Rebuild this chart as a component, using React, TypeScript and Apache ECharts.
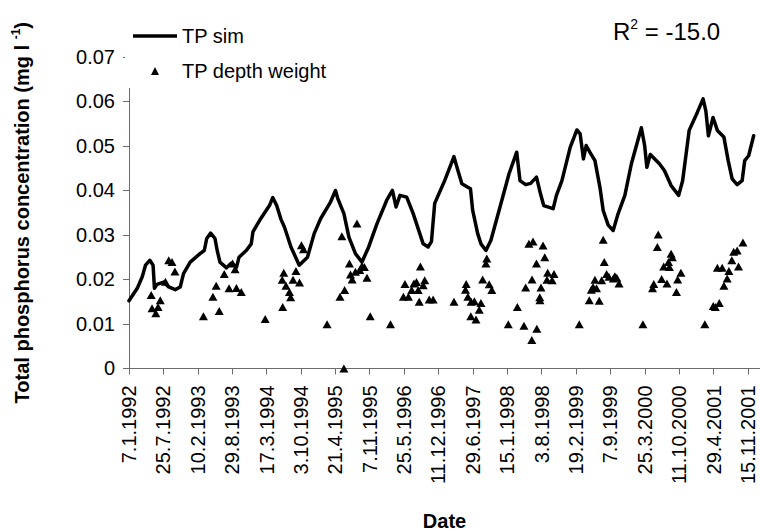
import React, { useEffect, useRef } from 'react';
import * as echarts from 'echarts';

const FONT = '"Liberation Sans", Arial, Helvetica, sans-serif';

// Day 0 of the x axis = 7.1.1992; tick labels every 200 days
const START_DATE_UTC = Date.UTC(1992, 0, 7);
const X_TICK_STEP_DAYS = 200;
const X_MAX_DAYS = 3670;

const Y_MIN = 0;
const Y_MAX = 0.07;
const Y_STEP = 0.01;

// TP sim (simulated) — days since 7.1.1992, concentration mg/l
const simDays = [
  0, 48, 77, 96, 121, 140, 148, 163, 202, 231, 269, 298, 317, 356, 413, 438, 452, 475, 500, 513,
  529, 567, 596, 625, 640, 682, 711, 721, 760, 817, 836, 859, 884, 904, 942, 990, 1038, 1077, 1115, 1172,
  1201, 1215, 1250, 1279, 1317, 1355, 1394, 1442, 1499, 1532, 1553, 1576, 1615, 1653, 1711, 1740, 1759, 1778, 1836, 1890,
  1913, 1936, 1986, 1999, 2028, 2047, 2076, 2105, 2163, 2210, 2255, 2274, 2307, 2336, 2370, 2393, 2412, 2467, 2486, 2518,
  2566, 2605, 2624, 2643, 2659, 2682, 2710, 2739, 2758, 2787, 2816, 2845, 2884, 2922, 2980, 2999, 3012, 3032, 3085, 3114,
  3153, 3197, 3220, 3258, 3306, 3339, 3355, 3370, 3397, 3422, 3460, 3485, 3508, 3537, 3566, 3581, 3604, 3633,
];
const simValues = [
  0.0152, 0.018, 0.0206, 0.0232, 0.0243, 0.0232, 0.018, 0.0189, 0.0194, 0.0183, 0.0177, 0.0183, 0.0213, 0.0239, 0.0258, 0.0265, 0.0292, 0.0304, 0.0292, 0.0265,
  0.0239, 0.0226, 0.0237, 0.0227, 0.025, 0.0265, 0.028, 0.0307, 0.0333, 0.0366, 0.0384, 0.0366, 0.0335, 0.0318, 0.0273, 0.0232, 0.025, 0.0303, 0.0337, 0.0374,
  0.04, 0.0381, 0.0348, 0.0295, 0.0258, 0.0239, 0.0273, 0.0325, 0.0378, 0.04, 0.0363, 0.0389, 0.0385, 0.0348, 0.028, 0.0273, 0.0285, 0.0371, 0.0422, 0.0476,
  0.0445, 0.0415, 0.0404, 0.0355, 0.0303, 0.028, 0.0265, 0.0288, 0.037, 0.0437, 0.0486, 0.0422, 0.0413, 0.0416, 0.043, 0.0393, 0.0366, 0.0359, 0.0389, 0.0422,
  0.0497, 0.0536, 0.0527, 0.0471, 0.0501, 0.0485, 0.0467, 0.0407, 0.0355, 0.0322, 0.031, 0.0348, 0.0389, 0.046, 0.0541, 0.0501, 0.0452, 0.0481, 0.046, 0.0445,
  0.0411, 0.0389, 0.0422, 0.0535, 0.0576, 0.0606, 0.0579, 0.0523, 0.0564, 0.0535, 0.052, 0.0467, 0.0426, 0.0413, 0.0422, 0.0467, 0.0478, 0.0523,
];

// TP depth weight (observed) — days since 7.1.1992, concentration mg/l
const obsDays = [
  129, 134, 156, 169, 182, 212, 231, 250, 267, 433,
  488, 507, 525, 554, 582, 603, 617, 625, 653, 792,
  894, 900, 891, 913, 933, 940, 954, 971, 992, 1003,
  1015, 1152, 1227, 1254, 1238, 1282, 1288, 1298, 1326, 1317,
  1342, 1355, 1369, 1384, 1250, 1403, 1521, 1596, 1605, 1625,
  1644, 1657, 1672, 1682, 1695, 1688, 1720, 1711, 1746, 1769,
  1890, 1961, 1957, 1971, 1990, 2009, 2047, 2037, 1988, 2018,
  2057, 2081, 2076, 2095, 2110, 2206, 2259, 2297, 2307, 2326,
  2350, 2344, 2370, 2372, 2343, 2396, 2389, 2390, 2408, 2418,
  2435, 2431, 2461, 2472, 2619, 2677, 2689, 2699, 2710, 2719,
  2735, 2758, 2764, 2749, 2778, 2791, 2817, 2826, 2837, 2850,
  2989, 3045, 3052, 3073, 3078, 3098, 3110, 3129, 3138, 3153,
  3160, 3143, 3184, 3191, 3210, 3349, 3398, 3410, 3433, 3422,
  3450, 3460, 3479, 3489, 3506, 3517, 3537, 3545, 3571,
];
const obsValues = [
  0.0165, 0.0135, 0.0124, 0.0138, 0.0153, 0.0195, 0.0243, 0.0239, 0.0218, 0.0117,
  0.0161, 0.0186, 0.0129, 0.0212, 0.018, 0.0236, 0.0223, 0.0181, 0.0172, 0.0111,
  0.0138, 0.0215, 0.0199, 0.0186, 0.0172, 0.016, 0.0199, 0.0219, 0.0193, 0.0277,
  0.0268, 0.0099, 0.0161, 0.0176, 0.0297, 0.0236, 0.0211, 0.02, 0.0326, 0.0217,
  0.0221, 0.023, 0.0228, 0.0204, 0, 0.0117, 0.0099, 0.0161, 0.019, 0.0161,
  0.0176, 0.0191, 0.0194, 0.0176, 0.0229, 0.015, 0.0198, 0.0187, 0.0155, 0.0155,
  0.015, 0.019, 0.0177, 0.0161, 0.015, 0.0151, 0.0147, 0.0132, 0.0117, 0.011,
  0.02, 0.0247, 0.0236, 0.0189, 0.0176, 0.0099, 0.0138, 0.0096, 0.0182, 0.028,
  0.0285, 0.02, 0.0236, 0.0089, 0.0064, 0.0182, 0.016, 0.0153, 0.0276, 0.025,
  0.0215, 0.0199, 0.0198, 0.0212, 0.0099, 0.0153, 0.0177, 0.0183, 0.0199, 0.018,
  0.0152, 0.0289, 0.0239, 0.0198, 0.0212, 0.0206, 0.0202, 0.0207, 0.0204, 0.0191,
  0.0099, 0.018, 0.019, 0.0273, 0.0301, 0.0201, 0.0229, 0.0191, 0.0239, 0.0258,
  0.025, 0.0228, 0.0172, 0.02, 0.0215, 0.0099, 0.014, 0.0138, 0.0147, 0.0226,
  0.0226, 0.0186, 0.0202, 0.0219, 0.0243, 0.0262, 0.0265, 0.0229, 0.0283,
];

const SERIES_SIM = 'TP sim';
const SERIES_OBS = 'TP depth weight';
const R2_TEXT = '-15.0';

function dayToLabel(day: number): string {
  const d = new Date(START_DATE_UTC + Math.round(day) * 86400000);
  return `${d.getUTCDate()}.${d.getUTCMonth() + 1}.${d.getUTCFullYear()}`;
}

export default function App() {
  const ref = useRef<HTMLDivElement>(null);

  useEffect(() => {
    if (!ref.current) return;
    const chart = echarts.init(ref.current, null, { renderer: 'svg' });
    const axisColor = '#6b6b6b';
    chart.setOption({
      animation: false,
      backgroundColor: '#ffffff',
      textStyle: { fontFamily: FONT },
      grid: {
        left: 129,
        top: 57,
        width: 631,
        height: 311.4,
        containLabel: false,
        outerBoundsMode: 'none',
      },
      xAxis: {
        type: 'value',
        min: 0,
        max: X_MAX_DAYS,
        interval: X_TICK_STEP_DAYS,
        axisLine: { show: true, lineStyle: { color: axisColor, width: 1 } },
        axisTick: { show: true, length: 6, lineStyle: { color: axisColor, width: 1 } },
        splitLine: { show: false },
        axisLabel: {
          rotate: 90,
          margin: 17,
          fontSize: 20,
          lineHeight: 14,
          color: '#000',
          fontFamily: FONT,
          showMaxLabel: false,
          formatter: (v: number) => (v % X_TICK_STEP_DAYS === 0 ? dayToLabel(v) : ''),
        },
        name: 'Date',
        nameLocation: 'middle',
        nameGap: 143,
        nameTextStyle: { fontSize: 20, fontWeight: 'bold', color: '#000', fontFamily: FONT },
      },
      yAxis: {
        type: 'value',
        min: Y_MIN,
        max: Y_MAX,
        interval: Y_STEP,
        axisLine: { show: true, lineStyle: { color: axisColor, width: 1 } },
        axisTick: { show: true, length: 6, lineStyle: { color: axisColor, width: 1 } },
        splitLine: { show: false },
        axisLabel: {
          margin: 14,
          fontSize: 20,
          color: '#000',
          fontFamily: FONT,
          formatter: (v: number) => (v === 0 ? '0' : v.toFixed(2)),
        },
        name: '{a|Total phosphorus concentration (mg l }{s|-1}{a|)}',
        nameLocation: 'middle',
        nameRotate: 90,
        nameGap: 95,
        nameTextStyle: {
          rich: {
            a: { fontSize: 20, fontWeight: 'bold', color: '#000', fontFamily: FONT, lineHeight: 24 },
            s: { fontSize: 12, fontWeight: 'bold', color: '#000', fontFamily: FONT, lineHeight: 12, verticalAlign: 'top' },
          },
        },
      },
      legend: {
        orient: 'vertical',
        left: 125,
        top: 19,
        padding: [6, 8, 6, 8],
        backgroundColor: '#ffffff',
        itemWidth: 44,
        itemHeight: 8,
        itemGap: 13,
        selectedMode: false,
        symbolKeepAspect: true,
        textStyle: { fontSize: 20, color: '#000', fontFamily: FONT, lineHeight: 22 },
        data: [
          {
            name: SERIES_SIM,
            icon: 'path://M0,0 L44,0 L44,3.5 L0,3.5 Z',
            itemStyle: { color: '#000', borderWidth: 0 },
          },
          {
            name: SERIES_OBS,
            icon: 'path://M0,8 M44,8 M18,8 L22,0 L26,8 Z',
            itemStyle: { color: '#000', borderWidth: 0 },
          },
        ],
      },
      graphic: [
        {
          type: 'text',
          left: 613,
          top: 17,
          style: {
            text: `{a|R}{s|2}{a| = ${R2_TEXT}}`,
            rich: {
              a: { fontSize: 24, lineHeight: 28, fontFamily: FONT, fill: '#000' },
              s: { fontSize: 14, lineHeight: 14, fontFamily: FONT, fill: '#000', verticalAlign: 'top' },
            },
          },
        },
      ],
      series: [
        {
          name: SERIES_SIM,
          type: 'line',
          data: simDays.map((d, i) => [d, simValues[i]]),
          showSymbol: false,
          symbol: 'none',
          lineStyle: { color: '#000', width: 3.5, join: 'round', cap: 'round' },
          itemStyle: { color: '#000' },
          z: 2,
        },
        {
          name: SERIES_OBS,
          type: 'scatter',
          data: obsDays.map((d, i) => [d, obsValues[i]]),
          symbol: 'triangle',
          symbolSize: [9, 8],
          itemStyle: { color: '#000', opacity: 1 },
          z: 3,
        },
      ],
    });
    return () => chart.dispose();
  }, []);

  return (
    <div
      ref={ref}
      style={{ position: 'fixed', left: 0, top: 0, width: 760, height: 531, background: '#fff' }}
    />
  );
}
